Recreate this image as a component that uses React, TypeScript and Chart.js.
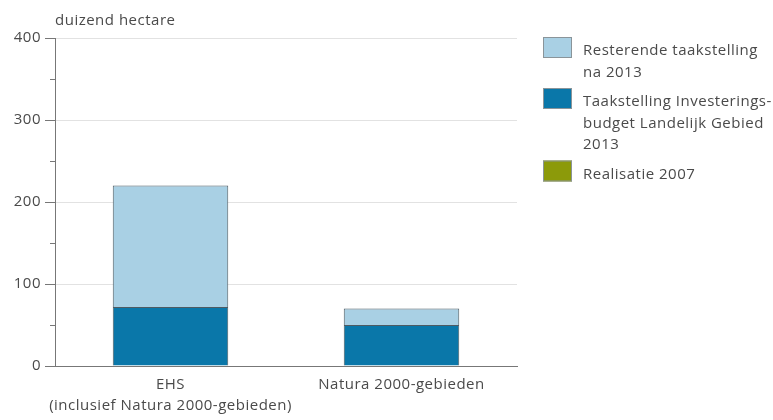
import React, { useEffect, useRef } from "react";
import { Chart, registerables } from "chart.js";

Chart.register(...registerables);

const categories: (string | string[])[] = [
  ["EHS", "(inclusief Natura 2000-gebieden)"],
  "Natura 2000-gebieden",
];
const realisatie2007 = [0, 0];
const taakstellingILG2013 = [72, 50];
const resterendNa2013 = [148, 20];

const yTicksMajor = [0, 100, 200, 300, 400];
const axisTitle = "duizend hectare";

const legendLabels: string[][] = [
  ["Resterende taakstelling", "na 2013"],
  ["Taakstelling Investerings-", "budget Landelijk Gebied", "2013"],
  ["Realisatie 2007"],
];

const FONT = "'Open Sans', 'DejaVu Sans', sans-serif";
const FS = 15;
const SPACING = "0.5px";
const COL_LIGHT = "#a9d0e4";
const COL_DARK = "#0a77a9";
const COL_OLIVE = "#8c9a0a";
const BORDER = "#4e5b63";
const TEXT = "#4a4a4a";

const legendColors = [COL_LIGHT, COL_DARK, COL_OLIVE];

const setSpacing = (chart: any) => {
  const ctx = chart.ctx as any;
  if (ctx && "letterSpacing" in ctx) ctx.letterSpacing = SPACING;
};

const extrasPlugin = {
  id: "extras",
  beforeUpdate(chart: any) {
    setSpacing(chart);
  },
  beforeLayout(chart: any) {
    setSpacing(chart);
  },
  beforeDraw(chart: any) {
    setSpacing(chart);
  },
  afterDraw(chart: any) {
    const ctx = chart.ctx as CanvasRenderingContext2D;
    const area = chart.chartArea;
    const y = chart.scales.y;
    ctx.save();
    setSpacing(chart);
    // axis title
    ctx.font = `${FS}px ${FONT}`;
    ctx.fillStyle = TEXT;
    ctx.textBaseline = "middle";
    ctx.textAlign = "left";
    ctx.fillText(axisTitle, area.left, 21);
    // minor ticks
    ctx.strokeStyle = "#777";
    ctx.lineWidth = 1;
    for (let v = 50; v < 400; v += 100) {
      const py = Math.round(y.getPixelForValue(v)) + 0.5;
      ctx.beginPath();
      ctx.moveTo(area.left - 5, py);
      ctx.lineTo(area.left, py);
      ctx.stroke();
    }
    // legend
    const lx = area.right + 26;
    const tx = lx + 40;
    const lineH = 21.5;
    let top = 37;
    ctx.font = `${FS}px ${FONT}`;
    legendLabels.forEach((lines, i) => {
      ctx.fillStyle = legendColors[i];
      ctx.fillRect(lx, top, 29, 21);
      ctx.strokeStyle = "#8a9499";
      ctx.lineWidth = 1;
      ctx.strokeRect(lx + 0.5, top + 0.5, 28, 20);
      ctx.fillStyle = TEXT;
      lines.forEach((t, j) => {
        ctx.fillText(t, tx, top + 14 + j * lineH);
      });
      top += lines.length * lineH + 8;
    });
    ctx.restore();
  },
};

export default function App() {
  const ref = useRef<HTMLCanvasElement | null>(null);
  useEffect(() => {
    document.body.style.margin = "0";
    if (!ref.current) return;
    const chart = new Chart(ref.current, {
      type: "bar",
      data: {
        labels: categories,
        datasets: [
          {
            label: "Realisatie 2007",
            data: realisatie2007,
            backgroundColor: COL_OLIVE,
            borderWidth: 0,
          },
          {
            label: "Taakstelling Investeringsbudget Landelijk Gebied 2013",
            data: taakstellingILG2013,
            backgroundColor: COL_DARK,
            borderColor: BORDER,
            borderWidth: 1,
          },
          {
            label: "Resterende taakstelling na 2013",
            data: resterendNa2013,
            backgroundColor: COL_LIGHT,
            borderColor: BORDER,
            borderWidth: 1,
          },
        ],
      },
      options: {
        animation: false,
        responsive: true,
        maintainAspectRatio: false,
        layout: { padding: { top: 38, right: 256, left: 0, bottom: 0 } },
        plugins: {
          legend: { display: false },
          tooltip: { enabled: false },
        },
        datasets: {
          bar: { categoryPercentage: 0.5, barPercentage: 1 },
        },
        scales: {
          x: {
            stacked: true,
            grid: { display: false, drawTicks: false },
            border: { display: true, color: "#777", width: 1 },
            ticks: {
              color: TEXT,
              font: { family: FONT, size: FS, lineHeight: 1.35 },
              padding: 9,
              maxRotation: 0,
              autoSkip: false,
            },
            afterFit: (s: any) => {
              s.height = 54;
            },
          },
          y: {
            stacked: true,
            min: 0,
            max: 400,
            afterBuildTicks: (s: any) => {
              s.ticks = yTicksMajor.map((v) => ({ value: v }));
            },
            grid: {
              color: (c: any) =>
                c.tick && c.tick.value !== 0 ? "#e2e2e2" : "transparent",
              tickColor: "#777",
              tickLength: 10,
              drawOnChartArea: true,
            },
            border: { display: true, color: "#777", width: 1 },
            ticks: {
              color: TEXT,
              font: { family: FONT, size: FS },
              padding: 4,
            },
            afterFit: (s: any) => {
              s.width = 55;
            },
          },
        },
      },
      plugins: [extrasPlugin],
    });
    return () => chart.destroy();
  }, []);
  return (
    <div style={{ position: "relative", width: 773, height: 420 }}>
      <canvas ref={ref} />
    </div>
  );
}
